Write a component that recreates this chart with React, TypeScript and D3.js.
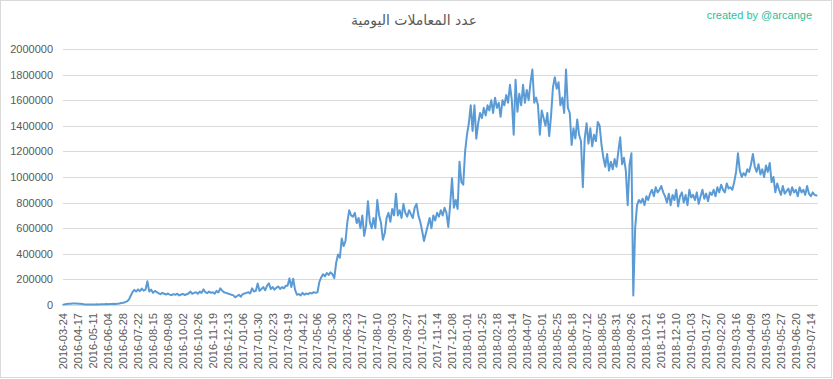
import React, { useEffect, useRef } from "react";
import * as d3 from "d3";

const TITLE = "عدد المعاملات اليومية";
const CREDIT = "created by @arcange";

const dateLabels = [
  "2016-03-24","2016-04-17","2016-05-11","2016-06-04","2016-06-28","2016-07-22","2016-08-15","2016-09-08",
  "2016-10-02","2016-10-26","2016-11-19","2016-12-13","2017-01-06","2017-01-30","2017-02-23","2017-03-19",
  "2017-04-12","2017-05-06","2017-05-30","2017-06-23","2017-07-17","2017-08-10","2017-09-03","2017-09-27",
  "2017-10-21","2017-11-14","2017-12-08","2018-01-01","2018-01-25","2018-02-18","2018-03-14","2018-04-07",
  "2018-05-01","2018-05-25","2018-06-18","2018-07-12","2018-08-05","2018-08-31","2018-09-26","2018-10-21",
  "2018-11-16","2018-12-10","2019-01-03","2019-01-27","2019-02-20","2019-03-16","2019-04-09","2019-05-03",
  "2019-05-27","2019-06-20","2019-07-14"
];
const labelStep = 24; // days between category labels
const sampleStep = 3; // days between the values below
const totalDays = 1212;

const yTicks = [0, 200000, 400000, 600000, 800000, 1000000, 1200000, 1400000, 1600000, 1800000, 2000000];

// daily transactions (thousands), one value every 3 days
const values = [
  3,5,7,9,
  10,12,11,12,10,9,7,5,4,
  4,3,4,3,4,5,4,5,6,5,7,6,8,7,9,8,10,12,
  15,18,22,28,40,
  70,100,118,105,122,108,128,112,120,185,105,120,95,110,100,
  92,85,95,88,82,90,80,
  78,85,80,88,75,82,86,78,84,90,105,88,
  95,100,88,105,95,122,100,
  92,105,95,100,88,110,98,130,112,100,95,90,85,80,
  75,60,70,80,65,85,90,
  95,100,90,130,105,110,
  168,110,125,140,115,150,170,125,
  140,120,135,145,125,140,130,150,
  150,208,140,205,120,80,
  85,75,95,80,90,85,95,90,100,95,100,
  180,215,240,225,250,235,255,240,210,
  330,395,370,520,460,500,650,740,700,
  690,720,640,680,600,700,540,620,810,650,600,
  680,600,820,700,640,510,560,
  680,720,650,750,700,870,
  700,740,680,790,720,690,740,710,680,760,790,700,
  650,580,500,560,
  620,680,600,700,660,720,690,740,700,760,720,610,780,990,
  760,820,750,
  1120,960,940,1200,1330,1420,1560,1360,1560,1300,1420,1500,
  1460,1540,1480,1560,1520,1600,1500,1620,1540,1580,1470,
  1600,1560,1640,1580,1720,1600,1330,1760,1510,
  1650,1560,1720,1580,1680,1600,1740,
  1840,1580,1620,1560,1330,1520,1460,1400,1500,1320,1480,
  1700,1780,1690,1740,1560,1620,1500,1840,1540,1500,
  1250,1380,1300,1450,1330,1280,920,1300,1420,1260,1380,1240,1330,1280,1430,1400,1250,
  1150,1080,1180,1050,1120,1060,1140,1080,1200,1310,
  1100,1150,1050,780,1100,1185,75,600,780,820,800,
  830,780,850,820,870,900,850,
  920,880,900,930,880,850,
  800,870,780,860,820,900,770,850,880,800,860,780,900,840,860,820,880,790,850,900,830,870,810,
  880,860,900,850,920,880,940,900,880,950,910,920,900,
  960,1040,1185,1050,1000,1030,1010,1060,1040,1100,1180,1080,
  1040,1100,1020,1060,1000,1090,1040,1110,960,1000,
  880,950,900,860,930,870,890,910,860,920,880,900,850,920,880,900,860,930,870,850,880,860,855
];

const W = 833;
const H = 379;
const M = { left: 63, right: 818, top: 49, bottom: 305 };

export default function App() {
  const ref = useRef<SVGSVGElement | null>(null);

  useEffect(() => {
    const svg = d3.select(ref.current);
    svg.selectAll("*").remove();

    const x = d3.scaleLinear().domain([-0.5, totalDays - 0.5]).range([M.left, M.right]);
    const y = d3.scaleLinear().domain([0, 2000000]).range([M.bottom, M.top]);

    svg.append("rect")
      .attr("x", 0.5).attr("y", 0.5).attr("width", W - 2).attr("height", H - 2)
      .attr("fill", "#ffffff").attr("stroke", "#d9d9d9");

    // gridlines
    svg.append("g").selectAll("line").data(yTicks).join("line")
      .attr("x1", M.left).attr("x2", M.right)
      .attr("y1", d => Math.round(y(d)) + 0.5).attr("y2", d => Math.round(y(d)) + 0.5)
      .attr("stroke", "#d9d9d9").attr("stroke-width", 1);

    // y labels
    svg.append("g").selectAll("text").data(yTicks).join("text")
      .attr("x", 53).attr("y", d => y(d))
      .attr("text-anchor", "end").attr("dominant-baseline", "central")
      .attr("font-family", "Liberation Sans, Arial, sans-serif").attr("font-size", 11)
      .attr("fill", "#595959")
      .text(d => String(d));

    // x labels
    svg.append("g").selectAll("text").data(dateLabels).join("text")
      .attr("transform", (d, i) => `translate(${x(i * labelStep)},${M.bottom + 8}) rotate(-90)`)
      .attr("text-anchor", "end").attr("dominant-baseline", "central")
      .attr("font-family", "Liberation Sans, Arial, sans-serif").attr("font-size", 11)
      .attr("fill", "#595959")
      .text(d => d);

    // line
    const line = d3.line<number>()
      .x((d, i) => x(i * sampleStep))
      .y(d => y(d * 1000));
    svg.append("path").datum(values)
      .attr("d", line)
      .attr("fill", "none").attr("stroke", "#5b9bd5").attr("stroke-width", 2)
      .attr("stroke-linejoin", "round").attr("stroke-linecap", "round");

    // title
    svg.append("text")
      .attr("x", 414).attr("y", 20)
      .attr("text-anchor", "middle").attr("dominant-baseline", "central")
      .attr("font-family", "DejaVu Sans, sans-serif").attr("font-size", 14)
      .attr("fill", "#595959")
      .text(TITLE);

    svg.append("text")
      .attr("x", 812).attr("y", 15)
      .attr("text-anchor", "end").attr("dominant-baseline", "central")
      .attr("font-family", "Liberation Sans, Arial, sans-serif").attr("font-size", 11)
      .attr("fill", "#2dbf9c")
      .text(CREDIT);
  }, []);

  return (
    <svg ref={ref} width={W} height={H} style={{ position: "absolute", left: 0, top: 0 }} />
  );
}
